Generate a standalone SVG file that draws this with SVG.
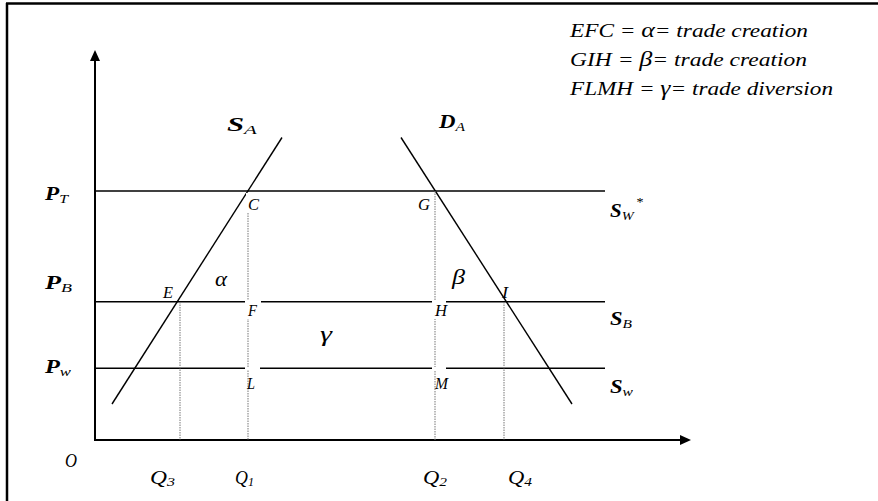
<svg xmlns="http://www.w3.org/2000/svg" width="878" height="501" viewBox="0 0 878 501">
<style>
.ax{stroke:#000;stroke-width:2;fill:none}
.ln{stroke:#000;stroke-width:1.4;fill:none}
.dt{stroke:#777;stroke-width:1;stroke-dasharray:1.5,1;fill:none}
text{font-family:'Liberation Serif','Times New Roman',Times,serif;font-style:italic;fill:#000}
.big{font-size:19px;font-weight:bold}
.sub{font-size:13px;font-weight:normal}
.pt{font-size:17px}
.gk{font-size:21px}
.lg{font-size:18px}
.q{font-size:19px}
</style>
<rect width="878" height="501" fill="#fff"/>
<g id="frame">
<line x1="6" y1="3.5" x2="878" y2="3.5" stroke="#000" stroke-width="2.5"/>
<line x1="7" y1="3" x2="7" y2="501" stroke="#000" stroke-width="2.5"/>
</g>
<g id="axes">
<line class="ax" x1="95" y1="58" x2="95" y2="441"/>
<line class="ax" x1="94" y1="440" x2="682" y2="440"/>
<polygon points="95,50 90,61 100,61" fill="#000"/>
<polygon points="691,440 680,435 680,445" fill="#000"/>
</g>
<g id="connectors">
<line class="ln" x1="95" y1="191" x2="605" y2="191"/>
<line class="ln" x1="95" y1="301.7" x2="605" y2="301.7"/>
<line class="ln" x1="95" y1="368.3" x2="605" y2="368.3"/>
<line class="ln" x1="112" y1="404" x2="282" y2="137.5"/>
<line class="ln" x1="401" y1="137.5" x2="572" y2="404"/>
<line class="dt" x1="180" y1="302" x2="180" y2="440"/>
<line class="dt" x1="248" y1="213" x2="248" y2="440"/>
<line class="dt" x1="435" y1="191" x2="435" y2="440"/>
<line class="dt" x1="504" y1="302" x2="504" y2="440"/>
</g>
<g id="label-gaps" fill="#fff">
<rect x="246" y="193" width="15" height="19"/>
<rect x="245" y="300" width="16" height="19"/>
<rect x="432" y="300" width="14" height="19"/>
<rect x="245" y="367" width="15" height="3"/>
<rect x="432" y="367" width="14" height="3"/>
</g>
<g id="labels">
<text class="big" x="227" y="131" textLength="30" lengthAdjust="spacingAndGlyphs">S<tspan class="sub" dy="3">A</tspan></text>
<text class="big" x="439" y="128" textLength="26" lengthAdjust="spacingAndGlyphs">D<tspan class="sub" dy="3">A</tspan></text>
<text class="big" x="45" y="200" textLength="23" lengthAdjust="spacingAndGlyphs">P<tspan class="sub" dy="3">T</tspan></text>
<text class="big" x="45" y="289" textLength="27" lengthAdjust="spacingAndGlyphs">P<tspan class="sub" dy="3">B</tspan></text>
<text class="big" x="45" y="373" textLength="26" lengthAdjust="spacingAndGlyphs">P<tspan class="sub" dy="3">w</tspan></text>
<text class="big" x="610" y="217" textLength="33" lengthAdjust="spacingAndGlyphs">S<tspan class="sub" dy="3">W</tspan><tspan class="sub" dx="2" dy="-14">*</tspan></text>
<text class="big" x="610" y="325" textLength="22" lengthAdjust="spacingAndGlyphs">S<tspan class="sub" dy="3">B</tspan></text>
<text class="big" x="610" y="393" textLength="23" lengthAdjust="spacingAndGlyphs">S<tspan class="sub" dy="3">w</tspan></text>
<text class="q" x="65" y="467" font-size="20" textLength="12" lengthAdjust="spacingAndGlyphs">O</text>
<text class="q" x="150" y="484" textLength="25" lengthAdjust="spacingAndGlyphs">Q<tspan class="sub" font-size="15" dy="2">3</tspan></text>
<text class="q" x="235" y="484" textLength="19" lengthAdjust="spacingAndGlyphs">Q<tspan class="sub" font-size="15" dy="2">1</tspan></text>
<text class="q" x="423" y="484" textLength="24" lengthAdjust="spacingAndGlyphs">Q<tspan class="sub" font-size="15" dy="2">2</tspan></text>
<text class="q" x="508" y="484" textLength="24" lengthAdjust="spacingAndGlyphs">Q<tspan class="sub" font-size="15" dy="2">4</tspan></text>
<text class="pt" x="248" y="210" textLength="11" lengthAdjust="spacingAndGlyphs">C</text>
<text class="pt" x="418" y="210" textLength="12" lengthAdjust="spacingAndGlyphs">G</text>
<text class="pt" x="163" y="298" textLength="10" lengthAdjust="spacingAndGlyphs">E</text>
<text class="pt" x="248" y="316" textLength="9" lengthAdjust="spacingAndGlyphs">F</text>
<text class="pt" x="435" y="316" textLength="12" lengthAdjust="spacingAndGlyphs">H</text>
<text class="pt" x="502" y="298" textLength="6" lengthAdjust="spacingAndGlyphs">I</text>
<text class="pt" x="247" y="389" textLength="8" lengthAdjust="spacingAndGlyphs">L</text>
<text class="pt" x="435" y="389" textLength="13" lengthAdjust="spacingAndGlyphs">M</text>
<text class="gk" x="215" y="286" textLength="12" lengthAdjust="spacingAndGlyphs">α</text>
<text class="gk" x="452" y="284" textLength="13" lengthAdjust="spacingAndGlyphs">β</text>
<text class="gk" x="320" y="341" textLength="12" lengthAdjust="spacingAndGlyphs">γ</text>
</g>
<g id="legend">
<text class="lg" x="570" y="37" textLength="238" lengthAdjust="spacingAndGlyphs">EFC = <tspan font-size="20">α</tspan>= trade creation</text>
<text class="lg" x="570" y="66" textLength="237" lengthAdjust="spacingAndGlyphs">GIH = <tspan font-size="20">β</tspan>= trade creation</text>
<text class="lg" x="570" y="95" textLength="263" lengthAdjust="spacingAndGlyphs">FLMH = <tspan font-size="20">γ</tspan>= trade diversion</text>
</g>
</svg>
